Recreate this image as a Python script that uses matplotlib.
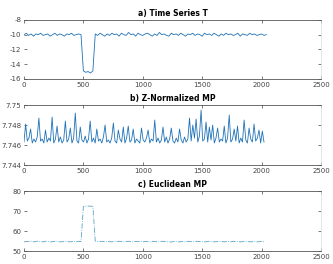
import numpy as np
import matplotlib
matplotlib.use("Agg")
import matplotlib.pyplot as plt

# a) time series, sampled every 20 points
ts_y = [
    -10.0, -9.8, -10.1, -9.9, -10.2, -9.9, -10.0, -9.8, -10.1, -10.0,
    -9.9, -10.2, -10.0, -9.8, -10.1, -9.9, -10.0, -10.2, -9.9, -10.0,
    -9.8, -10.1, -10.0, -9.9, -10.0, -14.9, -15.1, -15.0, -15.2, -14.9,
    -9.9, -10.1, -9.8, -10.0, -10.2, -9.9, -10.1, -9.8, -10.0, -9.9,
    -10.2, -9.8, -10.0, -10.1, -9.7, -10.0, -9.9, -10.2, -9.8, -10.0,
    -10.1, -9.9, -9.8, -10.0, -10.2, -9.9, -10.1, -9.7, -10.0, -9.9,
    -10.1, -10.2, -9.8, -10.0, -9.9, -10.1, -9.8, -10.0, -10.2, -9.9,
    -10.0, -9.8, -10.1, -9.9, -10.0, -10.2, -9.8, -10.0, -9.9, -10.1,
    -9.8, -10.0, -10.2, -9.9, -10.1, -9.8, -10.0, -9.9, -10.1, -10.0,
    -9.8, -10.2, -9.9, -10.0, -10.1, -9.8, -10.0, -9.9, -10.1, -10.0,
    -9.9, -10.1, -10.0,
]
ts_x = np.linspace(0, 2040, len(ts_y))

# b) z-normalized matrix profile, sampled every 14 points
zmp_y = [
    7.7463, 7.7481, 7.7464, 7.7467, 7.7476, 7.7462, 7.7466, 7.7463, 7.7468, 7.7487,
    7.7464, 7.7466, 7.7462, 7.7475, 7.7463, 7.7467, 7.7464, 7.7488, 7.7462, 7.7466,
    7.7479, 7.7463, 7.7468, 7.7462, 7.7465, 7.7484, 7.7463, 7.7466, 7.7477, 7.7462,
    7.7467, 7.7492, 7.7464, 7.7462, 7.7478, 7.7465, 7.7463, 7.7469, 7.7462, 7.7466,
    7.7484, 7.7463, 7.7467, 7.7462, 7.7476, 7.7464, 7.7466, 7.7462, 7.7468, 7.7480,
    7.7463, 7.7465, 7.7462, 7.7467, 7.7482, 7.7464, 7.7462, 7.7475, 7.7466, 7.7463,
    7.7478, 7.7462, 7.7467, 7.7479, 7.7463, 7.7465, 7.7476, 7.7462, 7.7466, 7.7464,
    7.7462, 7.7477, 7.7465, 7.7463, 7.7467, 7.7475, 7.7462, 7.7466, 7.7464, 7.7485,
    7.7463, 7.7467, 7.7462, 7.7465, 7.7478, 7.7463, 7.7468, 7.7462, 7.7466, 7.7477,
    7.7464, 7.7462, 7.7467, 7.7463, 7.7476, 7.7465, 7.7462, 7.7468, 7.7463, 7.7466,
    7.7487, 7.7464, 7.7480, 7.7467, 7.7486, 7.7463, 7.7469, 7.7495, 7.7464, 7.7466,
    7.7483, 7.7463, 7.7478, 7.7465, 7.7480, 7.7462, 7.7467, 7.7477, 7.7463, 7.7466,
    7.7464, 7.7479, 7.7462, 7.7467, 7.7490, 7.7463, 7.7466, 7.7476, 7.7464, 7.7479,
    7.7462, 7.7467, 7.7463, 7.7485, 7.7465, 7.7462, 7.7477, 7.7466, 7.7463, 7.7481,
    7.7464, 7.7467, 7.7475, 7.7462, 7.7474, 7.7463,
]
zmp_x = np.linspace(0, 2020, len(zmp_y))

# c) euclidean matrix profile, sampled every 20 points
emp_y = [
    54.6, 54.8, 54.7, 54.9, 54.6, 54.8, 55.0, 54.7, 54.6, 54.9,
    54.8, 54.6, 54.7, 54.9, 54.8, 54.6, 54.7, 54.8, 54.9, 54.6,
    54.7, 54.8, 54.6, 54.9, 54.8, 72.3, 72.5, 72.5, 72.5, 72.4,
    55.0, 54.8, 54.7, 54.9, 54.6, 54.8, 54.7, 54.6, 54.9, 54.8,
    54.9, 54.7, 54.6, 54.8, 54.9, 54.7, 54.6, 54.8, 54.7, 54.9,
    54.6, 54.8, 54.7, 54.6, 54.9, 54.8, 54.6, 54.7, 54.9, 54.8,
    54.6, 54.7, 54.5, 54.8, 54.9, 54.6, 54.7, 54.8, 54.6, 54.9,
    54.7, 54.8, 54.6, 54.9, 54.7, 54.8, 54.6, 54.7, 54.9, 54.8,
    54.6, 54.7, 54.8, 54.9, 54.6, 54.7, 54.8, 54.6, 54.9, 54.7,
    54.8, 54.6, 54.7, 54.9, 54.8, 54.6, 54.7, 54.8, 54.6, 54.7,
    54.8, 54.7,
]
emp_x = np.linspace(0, 2020, len(emp_y))

titles = ["a) Time Series T", "b) Z-Normalized MP", "c) Euclidean MP"]
ylims = [(-16, -8), (7.744, 7.75), (50, 80)]
yticks = [[-16, -14, -12, -10, -8], [7.744, 7.746, 7.748, 7.75], [50, 60, 70, 80]]
ylabels = [["-16", "-14", "-12", "-10", "-8"], ["7.744", "7.746", "7.748", "7.75"],
           ["50", "60", "70", "80"]]
xticks = [0, 500, 1000, 1500, 2000, 2500]

fig = plt.figure(figsize=(3.33, 2.64), dpi=100)
boxes = [[0.072, 0.701, 0.892, 0.2235],
         [0.072, 0.375, 0.892, 0.227],
         [0.072, 0.049, 0.892, 0.227]]
axes = [fig.add_axes(b) for b in boxes]

axes[0].plot(ts_x, ts_y, color="#1f72b8", lw=0.6)
axes[1].plot(zmp_x, zmp_y, color="#1f72b8", lw=0.6)
axes[2].plot(emp_x, emp_y, color="#5aa3c4", lw=0.6, ls="-.")

for ax, t, yl, yt, ylab in zip(axes, titles, ylims, yticks, ylabels):
    ax.set_xlim(0, 2500)
    ax.set_ylim(*yl)
    ax.set_xticks(xticks)
    ax.set_yticks(yt)
    ax.set_yticklabels(ylab)
    ax.set_title(t, fontsize=5.5, fontweight="bold", pad=3)
    ax.tick_params(direction="in", length=2, width=0.5, labelsize=5, pad=2,
                   colors="#444444", top=True, right=True)
    ax.spines["left"].set_visible(False)
    ax.spines["right"].set_color("#dddddd")
    ax.spines["right"].set_linewidth(0.5)
    for s in ["top", "bottom"]:
        ax.spines[s].set_color("#555555")
        ax.spines[s].set_linewidth(0.6)

fig.savefig("out.png", dpi=100)
